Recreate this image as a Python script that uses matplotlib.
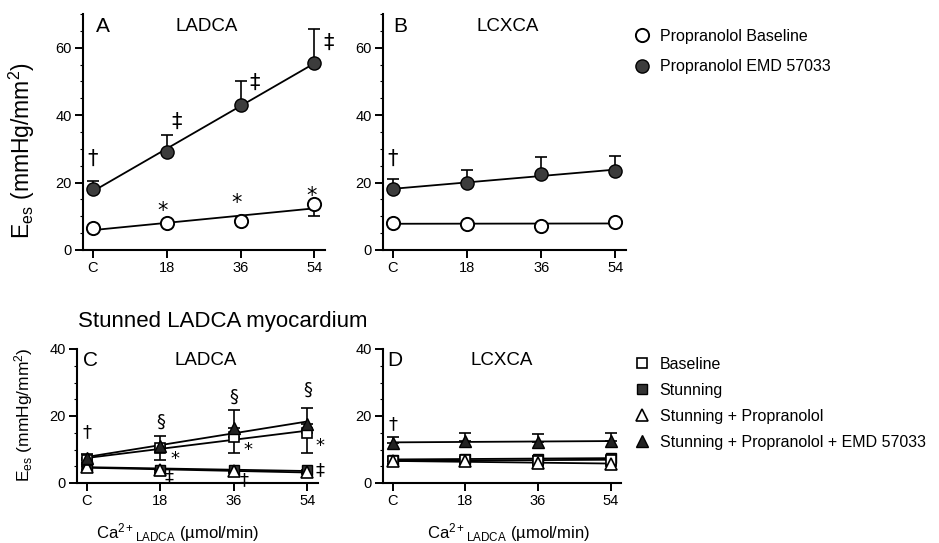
import numpy as np
import matplotlib
matplotlib.use("Agg")
import matplotlib.pyplot as plt
from matplotlib.lines import Line2D
from matplotlib.ticker import MultipleLocator

plt.rcParams['font.family'] = ['Liberation Sans', 'DejaVu Sans']
plt.rcParams['mathtext.fontset'] = 'custom'
plt.rcParams['mathtext.rm'] = 'Liberation Sans'
plt.rcParams['mathtext.it'] = 'Liberation Sans:italic'

#------------------------------------------------------------------------------
# Data
#------------------------------------------------------------------------------

ca_dose = [0, 18, 36, 54]
dose_labels = ["C", "18", "36", "54"]

# top row: propranolol
a_baseline = [6.5, 8.0, 8.5, 13.5]
a_baseline_err = [0.6, 0.6, 0.8, 3.5]
a_emd = [18.0, 29.0, 43.0, 55.5]
a_emd_err = [2.5, 5.0, 7.0, 10.0]

b_baseline = [8.0, 7.8, 7.2, 8.3]
b_baseline_err = [0.5, 0.5, 0.5, 0.6]
b_emd = [18.0, 20.0, 22.5, 23.5]
b_emd_err = [3.0, 3.8, 5.0, 4.5]

# bottom row: stunned LADCA myocardium
c_baseline = [7.0, 10.5, 13.7, 15.0]
c_baseline_err = [1.0, 3.6, 4.8, 6.1]
c_stunning = [5.0, 4.0, 3.8, 3.8]
c_stunning_err = [0.8, 0.7, 0.6, 0.7]
c_stun_prop = [4.8, 3.8, 3.5, 3.3]
c_stun_prop_err = [0.8, 0.7, 0.6, 0.6]
c_stun_emd = [7.5, 11.0, 16.3, 17.5]
c_stun_emd_err = [1.2, 3.0, 5.5, 5.0]

d_baseline = [6.5, 7.0, 6.6, 7.0]
d_baseline_err = [0.7, 0.7, 0.7, 0.7]
d_stunning = [7.0, 7.2, 7.3, 7.4]
d_stunning_err = [0.7, 0.7, 0.7, 0.7]
d_stun_prop = [6.5, 6.5, 6.0, 5.8]
d_stun_prop_err = [0.7, 0.7, 0.7, 0.7]
d_stun_emd = [12.0, 12.5, 12.3, 12.5]
d_stun_emd_err = [1.6, 2.3, 2.2, 2.3]

# significance marks: (symbol, dose, value)
a_marks = [("†", 0, 27), ("‡", 20.5, 38), ("‡", 39.5, 49.5), ("‡", 57.5, 61.5),
           ("*", 17, 11.5), ("*", 35, 14), ("*", 53.3, 16)]
b_marks = [("†", 0, 27)]
c_marks = [("†", 0, 15.3), ("§", 18, 18.3), ("§", 36, 25.8), ("§", 54, 27.8),
           ("*", 21.5, 7.3), ("*", 39.5, 10.0), ("*", 57, 11.0),
           ("‡", 20.2, 1.8), ("‡", 38.5, 0.8), ("‡", 57, 3.8)]
d_marks = [("†", 0, 17.5)]

#------------------------------------------------------------------------------
# Figure
#------------------------------------------------------------------------------

W, H = 939, 543
fig = plt.figure(figsize=(W / 100, H / 100), dpi=100)

def px_axes(x0, y0, x1, y1):
    # pixel box -> figure fraction
    return fig.add_axes([x0 / W, 1 - y1 / H, (x1 - x0) / W, (y1 - y0) / H])

axA = px_axes(83, 14, 325, 250)
axB = px_axes(383, 14, 626, 250)
axC = px_axes(77, 349, 318, 483)
axD = px_axes(383, 349, 621, 483)

open_kw = dict(marker="o", mfc="white", mec="black", mew=1.4, ms=9.5)
fill_kw = dict(marker="o", mfc="#3c3c3c", mec="black", mew=1.0, ms=9.5)
sq_open = dict(marker="s", mfc="white", mec="black", mew=1.2, ms=7)
sq_fill = dict(marker="s", mfc="#333333", mec="black", mew=1.0, ms=7)
tri_open = dict(marker="^", mfc="white", mec="black", mew=1.2, ms=8)
tri_fill = dict(marker="^", mfc="#222222", mec="black", mew=1.0, ms=8)


def style_axis(ax, ymax, ystep, minor):
    ax.set_xlim(-2.4, 56.6)
    ax.set_ylim(0, ymax)
    for s in ("top", "right"):
        ax.spines[s].set_visible(False)
    for s in ("left", "bottom"):
        ax.spines[s].set_linewidth(1.5)
    ax.set_xticks(ca_dose)
    ax.set_xticklabels(dose_labels)
    ax.yaxis.set_major_locator(MultipleLocator(ystep))
    ax.yaxis.set_minor_locator(MultipleLocator(minor))
    ax.tick_params(axis="both", labelsize=10.5, width=1.4, length=6, pad=2)
    ax.tick_params(axis="y", which="minor", length=2.5, width=0.8)


def plot_series(ax, y, err, up, kw, fit=True):
    x = np.array(ca_dose, dtype=float)
    y = np.array(y)
    if fit:
        k, b = np.polyfit(x, y, 1)
        ax.plot(x[[0, -1]], k * x[[0, -1]] + b, color="black", lw=1.3, zorder=2)
    yerr = [np.zeros(len(err)), err] if up else [err, np.zeros(len(err))]
    ax.errorbar(x, y, yerr=yerr, fmt="none", ecolor="black", elinewidth=1.2,
                capsize=4, capthick=1.2, zorder=3)
    ax.plot(x, y, ls="none", zorder=4, clip_on=False, **kw)


def put_marks(ax, marks, size):
    for sym, x, y in marks:
        ax.text(x, y, sym, ha="center", va="center", fontsize=size,
                clip_on=False, family=["DejaVu Sans"])


def panel_text(ax, letter, name, lx, nx, y):
    ax.text(lx, y, letter, transform=ax.transAxes, fontsize=15,
            ha="center", va="center")
    ax.text(nx, y, name, transform=ax.transAxes, fontsize=13.5,
            ha="center", va="center")

ylabel = "E$_{\\mathrm{es}}$ (mmHg/mm$^2$)"
xlabel = "Ca$^{2+}$$_{\\mathrm{LADCA}}$ (µmol/min)"

#------------------------------------------------------------------------------

style_axis(axA, 70, 20, 5)
plot_series(axA, a_baseline, a_baseline_err, False, open_kw)
plot_series(axA, a_emd, a_emd_err, True, fill_kw)
put_marks(axA, a_marks, 15)
panel_text(axA, "A", "LADCA", 0.083, 0.512, 0.945)
axA.set_ylabel(ylabel, fontsize=16.5)
axA.yaxis.set_label_coords(-0.19, 0.42)

style_axis(axB, 70, 20, 5)
plot_series(axB, b_baseline, b_baseline_err, True, open_kw)
plot_series(axB, b_emd, b_emd_err, True, fill_kw)
put_marks(axB, b_marks, 15)
panel_text(axB, "B", "LCXCA", 0.07, 0.515, 0.945)

style_axis(axC, 40, 20, 5)
plot_series(axC, c_stunning, c_stunning_err, False, sq_fill)
plot_series(axC, c_stun_prop, c_stun_prop_err, False, tri_open)
plot_series(axC, c_baseline, c_baseline_err, False, sq_open)
plot_series(axC, c_stun_emd, c_stun_emd_err, True, tri_fill)
put_marks(axC, c_marks, 13)
panel_text(axC, "C", "LADCA", 0.055, 0.535, 0.915)
axC.set_ylabel(ylabel, fontsize=12.5)
axC.yaxis.set_label_coords(-0.175, 0.51)
axC.set_xlabel(xlabel, fontsize=12)
axC.xaxis.set_label_coords(0.415, -0.285)

style_axis(axD, 40, 20, 5)
plot_series(axD, d_stunning, d_stunning_err, True, sq_fill)
plot_series(axD, d_baseline, d_baseline_err, True, sq_open)
plot_series(axD, d_stun_prop, d_stun_prop_err, False, tri_open)
plot_series(axD, d_stun_emd, d_stun_emd_err, True, tri_fill)
put_marks(axD, d_marks, 13)
panel_text(axD, "D", "LCXCA", 0.05, 0.5, 0.915)
axD.set_xlabel(xlabel, fontsize=12)
axD.xaxis.set_label_coords(0.525, -0.285)

fig.text(78 / W, 1 - 322 / H, "Stunned LADCA myocardium", fontsize=16,
         ha="left", va="center")

#------------------------------------------------------------------------------
# Legends
#------------------------------------------------------------------------------

def mk(kw):
    return Line2D([], [], ls="none", **kw)

top_handles = [mk(open_kw), mk(fill_kw)]
top_labels = ["Propranolol Baseline", "Propranolol EMD 57033"]
fig.legend(top_handles, top_labels, loc="upper left",
           bbox_to_anchor=(634 / W, 1 - 29 / H), frameon=False, fontsize=11.5,
           handlelength=1.0, handletextpad=0.6, labelspacing=0.95,
           borderpad=0, borderaxespad=0)

bot_handles = [mk(sq_open), mk(sq_fill), mk(tri_open), mk(tri_fill)]
bot_labels = ["Baseline", "Stunning", "Stunning + Propranolol",
              "Stunning + Propranolol + EMD 57033"]
fig.legend(bot_handles, bot_labels, loc="upper left",
           bbox_to_anchor=(634 / W, 1 - 357 / H), frameon=False, fontsize=11.5,
           handlelength=1.0, handletextpad=0.6, labelspacing=0.68,
           borderpad=0, borderaxespad=0)

fig.savefig("out.png", dpi=100)
